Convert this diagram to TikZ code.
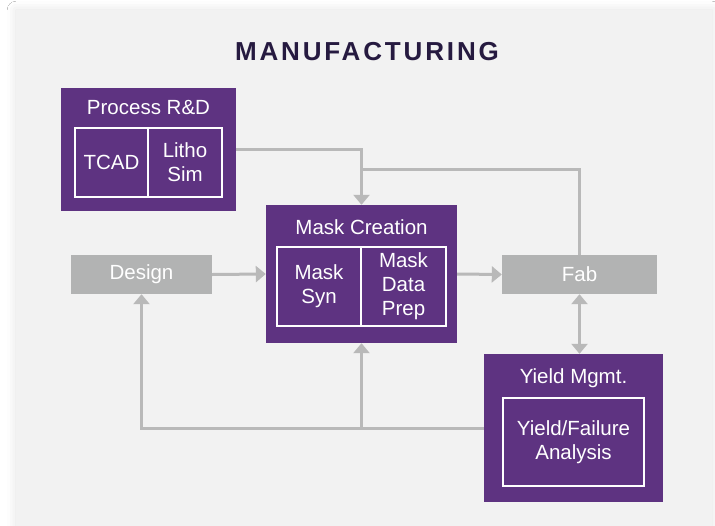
\documentclass[tikz,border=0pt]{standalone}
\usepackage{fontspec}
\setmainfont{Liberation Sans}
\newfontfamily\titlefont[LetterSpace=11]{Liberation Sans}
\usetikzlibrary{arrows.meta,shadows.blur}
\definecolor{purp}{HTML}{5E3381}
\definecolor{boxgray}{HTML}{B2B3B3}
\definecolor{linegray}{HTML}{B9B9B9}
\definecolor{panel}{HTML}{F2F2F2}
\definecolor{titlec}{HTML}{261A40}
\tikzset{
  outerbox/.style={fill=purp, draw=none, inner sep=0pt},
  innerbox/.style={draw=white, line width=2pt, fill=purp, text=white, inner sep=0pt, align=center, font=\fontsize{20.5}{24}\selectfont},
  graybox/.style={fill=boxgray, draw=none, text=white, inner sep=0pt, font=\fontsize{20.5}{24}\selectfont},
  boxtitle/.style={text=white, inner sep=0pt, font=\fontsize{20.5}{24}\selectfont},
  conn/.style={draw=linegray, line width=3pt},
  arr/.style={conn, -{Triangle[width=16pt,length=10pt]}},
  darr/.style={conn, {Triangle[width=16pt,length=10pt]}-{Triangle[width=16pt,length=10pt]}},
}
\begin{document}
\begin{tikzpicture}[x=1pt,y=-1pt]
\useasboundingbox (0,0) rectangle (715,525);
\clip (0,0) rectangle (715,525);
\fill[white] (0,0) rectangle (715,525);
\node[fill=panel, draw=none, minimum width=696pt, minimum height=540pt, inner sep=0pt, anchor=north west,
  blur shadow={shadow xshift=0pt, shadow yshift=0pt, shadow blur radius=9pt, shadow opacity=12}] (panelbox) at (16,10) {};
\node[text=titlec, font=\titlefont\bfseries\fontsize{26}{30}\selectfont] (title) at (367,52) {MANUFACTURING};

% Process R&D
\node[outerbox, minimum width=175pt, minimum height=123pt] (proc) at (148.5,149.5) {};
\node[boxtitle] (proct) at (148.5,108) {Process R\&D};
\node[innerbox, minimum width=73pt, minimum height=69pt] (tcad) at (111.5,162.5) {TCAD};
\node[innerbox, minimum width=74pt, minimum height=69pt] (litho) at (185,162.5) {Litho\\Sim};

% Mask Creation
\node[outerbox, minimum width=191pt, minimum height=138pt] (mask) at (361.5,274) {};
\node[boxtitle] (maskt) at (361.5,227) {Mask Creation};
\node[innerbox, minimum width=84pt, minimum height=79pt] (masksyn) at (319,286.5) {Mask\\Syn};
\node[innerbox, minimum width=85pt, minimum height=79pt] (maskdp) at (403.5,286.5) {Mask\\Data\\Prep};

% Design and Fab
\node[graybox, minimum width=141pt, minimum height=39pt] (design) at (141.5,274.5) {Design};
\node[graybox, minimum width=155pt, minimum height=39pt] (fab) at (579.5,274.5) {Fab};

% Yield
\node[outerbox, minimum width=179pt, minimum height=148pt] (yield) at (573.5,428) {};
\node[boxtitle] (yieldt) at (573.5,378) {Yield Mgmt.};
\node[innerbox, minimum width=141pt, minimum height=88pt] (yfa) at (573.5,442) {Yield/Failure\\Analysis};

% Connectors
\coordinate (j1) at (361.5,169);
\coordinate (j2) at (361.5,428);
\draw[arr] (proc.east) -| (mask.north);
\draw[conn] (fab.north) |- (j1);
\draw[arr] (design.east) -- (mask.west);
\draw[arr] (mask.east) -- (fab.west);
\draw[darr] (fab.south) -- (fab.south |- yield.north);
\draw[arr] (yield.west) -| (design.south);
\draw[arr] (j2) -- (mask.south);
\end{tikzpicture}
\end{document}
